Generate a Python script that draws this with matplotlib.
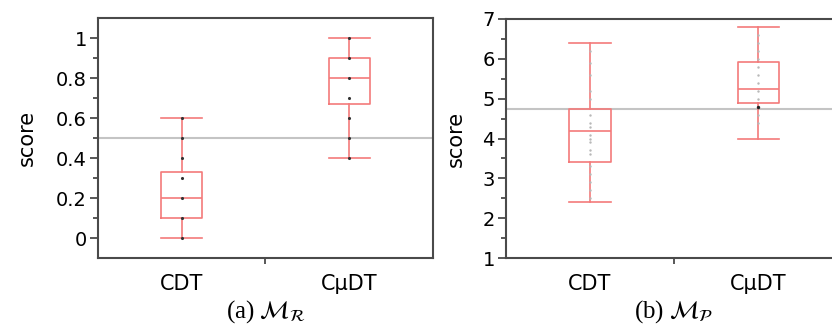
import matplotlib
matplotlib.use('Agg')
import matplotlib.pyplot as plt

plt.rcParams['mathtext.fontset'] = 'stix'

categories = ['CDT', 'C\u03bcDT']

# (a) M_R : box stats [whislo, q1, med, q3, whishi]
r_stats = [[0.0, 0.10, 0.20, 0.33, 0.60],
           [0.40, 0.67, 0.80, 0.90, 1.00]]
r_points = [[0.0, 0.1, 0.2, 0.3, 0.4, 0.5, 0.6],
            [0.4, 0.5, 0.6, 0.7, 0.8, 0.9, 1.0]]
r_ref = 0.5

# (b) M_P
p_stats = [[2.4, 3.4, 4.2, 4.75, 6.4],
           [4.0, 4.9, 5.25, 5.93, 6.8]]
p_points = [[2.5, 2.7, 2.9, 3.1, 3.3, 3.6, 3.7, 3.9, 4.0, 4.1, 4.3, 4.4, 4.6,
             5.0, 5.2, 5.6, 5.9, 6.2],
            [4.4, 4.6, 5.0, 5.2, 5.4, 5.6, 5.8, 6.0, 6.2, 6.4, 6.6]]
p_dark = [[], [4.8]]
p_ref = 4.75

red = '#f47a7a'
spine = '#4a4a4a'

fig = plt.figure(figsize=(8.32, 3.31), dpi=100)
ax1 = fig.add_axes([0.1178, 0.2205, 0.4026, 0.7251])
ax2 = fig.add_axes([0.6082, 0.2205, 0.404, 0.7221])


def draw(ax, stats, points, ref, ylim, major, minor, pt_color, pt_size, lpad):
    ax.axhline(ref, color='#c4c4c4', lw=1.5, zorder=1)
    bxp = []
    for s, c in zip(stats, categories):
        bxp.append({'whislo': s[0], 'q1': s[1], 'med': s[2], 'q3': s[3],
                    'whishi': s[4], 'fliers': [], 'label': c})
    pos = [0.5, 1.5]
    ax.bxp(bxp, positions=pos, widths=0.245, showfliers=False,
           boxprops=dict(color=red, lw=1.2),
           whiskerprops=dict(color=red, lw=1.2),
           capprops=dict(color=red, lw=1.2),
           medianprops=dict(color=red, lw=1.2),
           capwidths=0.245, manage_ticks=False, zorder=3)
    for p, vals in zip(pos, points):
        ax.scatter([p] * len(vals), vals, s=pt_size, color=pt_color,
                   zorder=4, lw=0)
    ax.set_xlim(0, 2)
    ax.set_ylim(*ylim)
    ax.set_xticks([1])
    ax.set_xticklabels([''])
    ax.set_yticks(major)
    ax.set_yticks(minor, minor=True)
    ax.tick_params(axis='y', which='major', length=6, width=1.3,
                   color=spine, labelsize=14, pad=2)
    ax.tick_params(axis='y', which='minor', length=3.5, width=1.3, color=spine)
    ax.tick_params(axis='x', length=4, width=1.3, color=spine)
    for sp in ax.spines.values():
        sp.set_color(spine)
        sp.set_linewidth(1.5)
    for p, c in zip(pos, categories):
        ax.text(p, -0.11, c, transform=ax.get_xaxis_transform(),
                ha='center', va='center', fontsize=15)
    ax.set_ylabel('score', fontsize=15, labelpad=lpad)


draw(ax1, r_stats, r_points, r_ref, (-0.1, 1.1),
     [0, 0.2, 0.4, 0.6, 0.8, 1.0],
     [0.1, 0.3, 0.5, 0.7, 0.9],
     '#333333', 5, 14)
ax1.set_yticklabels(['0', '0.2', '0.4', '0.6', '0.8', '1'])

draw(ax2, p_stats, p_points, p_ref, (1, 7),
     [1, 2, 3, 4, 5, 6, 7],
     [1.5, 2.5, 3.5, 4.5, 5.5, 6.5],
     '#b8b8b8', 3, 12)
ax2.scatter([1.5] * len(p_dark[1]), p_dark[1], s=6, color='#222222',
            zorder=5, lw=0)

fig.text(266 / 832, 1 - 312 / 331, r'(a) $\mathcal{M}_{\mathcal{R}}$',
         ha='center', va='center', fontsize=18, family='Liberation Serif')
fig.text(674 / 832, 1 - 312 / 331, r'(b) $\mathcal{M}_{\mathcal{P}}$',
         ha='center', va='center', fontsize=18, family='Liberation Serif')

plt.savefig('out.png', dpi=100)
